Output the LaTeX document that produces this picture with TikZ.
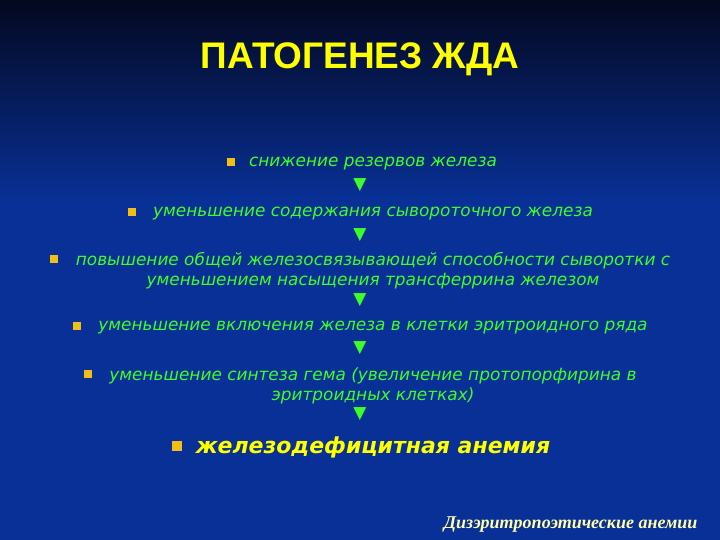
\documentclass[tikz,border=0pt]{standalone}
\usepackage{fontspec}
\setmainfont{DejaVu Sans}
\newfontfamily\titlefont{Liberation Sans}
\newfontfamily\footfont{Liberation Serif}
\usetikzlibrary{positioning}
\definecolor{bgtop}{RGB}{4,8,32}
\definecolor{bgblue}{RGB}{8,48,150}
\definecolor{txtgreen}{RGB}{60,255,40}
\definecolor{titleyellow}{RGB}{255,255,0}
\definecolor{bulgold}{RGB}{240,190,20}
\definecolor{footyellow}{RGB}{255,255,170}
\tikzset{
  item/.style={text=txtgreen,font=\itshape\fontsize{16.9}{20}\selectfont,align=center,inner sep=0pt},
  bul/.style={fill=bulgold,minimum size=8pt,inner sep=0pt},
  down/.style={text=txtgreen,font=\fontsize{17}{17}\selectfont,inner sep=0pt}
}
\begin{document}
\begin{tikzpicture}[x=1pt,y=-1pt]
\useasboundingbox (0,0) rectangle (720,540);
\shade[top color=bgtop,bottom color=bgblue] (0,0) rectangle (720,200);
\fill[bgblue] (0,200) rectangle (720,540);
% title
\node[text=titleyellow,font=\titlefont\bfseries\fontsize{37}{42}\selectfont] (title) at (360,59) {ПАТОГЕНЕЗ ЖДА};
% chain of steps
\node[item] (s1) at (373,164) {снижение резервов железа};
\node[bul] (b1) at (231,162) {};
\node[down] (a1) at (360,185) {▼};
\node[item] (s2) at (373,214) {уменьшение содержания сывороточного железа};
\node[bul] (b2) at (132,212) {};
\node[down] (a2) at (360,235) {▼};
\node[item] (s3) at (373,271) {повышение общей железосвязывающей способности сыворотки с\\уменьшением насыщения трансферрина железом};
\node[bul] (b3) at (54,259) {};
\node[down] (a3) at (360,300) {▼};
\node[item] (s4) at (373,328) {уменьшение включения железа в клетки эритроидного ряда};
\node[bul] (b4) at (77,326) {};
\node[down] (a4) at (360,348) {▼};
\node[item] (s5) at (373,386) {уменьшение синтеза гема (увеличение протопорфирина в\\эритроидных клетках)};
\node[bul] (b5) at (88,374) {};
\node[down] (a5) at (360,414) {▼};
\node[item,text=titleyellow,font=\bfseries\itshape\fontsize{22}{26}\selectfont] (s6) at (373,447) {железодефицитная анемия};
\node[bul,minimum size=10pt] (b6) at (177,446) {};
% footer
\node[text=footyellow,font=\footfont\bfseries\itshape\fontsize{18}{21}\selectfont,anchor=east] (foot) at (701,525) {Дизэритропоэтические анемии};
\end{tikzpicture}
\end{document}
